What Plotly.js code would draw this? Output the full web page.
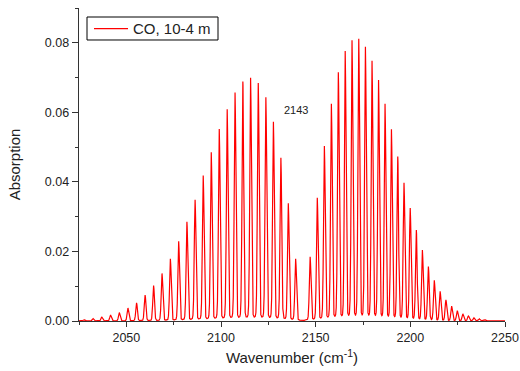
<!DOCTYPE html>
<html>
<head>
<meta charset="utf-8">
<script src="https://cdn.plot.ly/plotly-3.0.1.min.js"></script>
<style>html,body{margin:0;padding:0;background:#fff;}#chart{width:520px;height:371px;}</style>
</head>
<body>
<div id="chart"></div>
<script>
// P-branch line centres (cm^-1) and peak absorptions
const pCenters = [2139.43, 2135.55, 2131.63, 2127.68, 2123.70, 2119.68, 2115.63, 2111.54, 2107.42, 2103.27,
                  2099.08, 2094.86, 2090.61, 2086.32, 2082.00, 2077.65, 2073.26, 2068.85, 2064.40, 2059.91,
                  2055.40, 2050.85, 2046.28, 2041.67, 2037.03, 2032.35, 2027.65];
const pHeights = [0.0177, 0.0336, 0.0467, 0.0570, 0.0640, 0.0681, 0.0696, 0.0685, 0.0654, 0.0606,
                  0.0549, 0.0483, 0.0416, 0.0347, 0.0284, 0.0228, 0.0178, 0.0136, 0.0101, 0.0074,
                  0.0052, 0.0037, 0.0024, 0.0017, 0.0011, 0.0007, 0.0004];
// R-branch
const rCenters = [2147.08, 2150.86, 2154.60, 2158.30, 2161.97, 2165.60, 2169.20, 2172.76, 2176.28, 2179.77,
                  2183.22, 2186.64, 2190.02, 2193.36, 2196.66, 2199.94, 2203.17, 2206.37, 2209.53, 2212.66,
                  2215.75, 2218.80, 2221.82, 2224.80, 2227.75, 2230.66, 2233.53, 2236.37, 2239.17, 2241.94];
const rHeights = [0.0183, 0.0352, 0.0500, 0.0621, 0.0711, 0.0771, 0.0802, 0.0806, 0.0783, 0.0743,
                  0.0688, 0.0620, 0.0547, 0.0469, 0.0394, 0.0322, 0.0259, 0.0202, 0.0155, 0.0116,
                  0.0084, 0.0060, 0.0042, 0.0029, 0.0020, 0.0014, 0.0009, 0.0006, 0.0004, 0.0002];
const seriesName = 'CO, 10-4 m';
const bandLabel = '2143';
const xRange = [2025, 2250];
const yRange = [0, 0.09];

// build the spectrum from the line list (pseudo-Voigt line shape)
const centers = pCenters.concat(rCenters);
const heights = pHeights.concat(rHeights);
const fwhm = 1.0, eta = 0.12, step = 0.01;
const xs = [], ys = [];
const n = Math.round((xRange[1] - xRange[0]) / step);
for (let i = 0; i <= n; i++) {
  const x = xRange[0] + i * step;
  let y = 0;
  for (let k = 0; k < centers.length; k++) {
    const d = (x - centers[k]) / fwhm;
    const d2 = d * d;
    const g = Math.exp(-4 * Math.LN2 * d2);
    const l = 1 / (1 + 4 * d2);
    y += heights[k] * ((1 - eta) * g + eta * l);
  }
  xs.push(x); ys.push(y);
}

const font = 'Arial, "Liberation Sans", sans-serif';
const axisCol = '#333';
const trace = {
  x: xs, y: ys, type: 'scatter', mode: 'lines', name: seriesName,
  line: {color: '#ff0000', width: 1.2}
};
const layout = {
  width: 520, height: 371,
  margin: {l: 79, r: 15, t: 8, b: 50},
  paper_bgcolor: '#fff', plot_bgcolor: '#fff',
  font: {family: font, color: '#222'},
  showlegend: true,
  legend: {x: 0.0235, y: 0.986, xanchor: 'left', yanchor: 'top', borderwidth: 0,
           bgcolor: 'rgba(0,0,0,0)', itemwidth: 34, font: {size: 15, family: font, color: '#222'}},
  shapes: [{type: 'rect', xref: 'paper', yref: 'paper', x0: 0.0188, x1: 0.3263, y0: 0.8978, y1: 0.9712,
            line: {color: '#000', width: 1}, fillcolor: '#fff', layer: 'above'}],
  xaxis: {
    range: xRange, dtick: 50, tick0: 2050, ticks: 'outside', ticklen: 5, tickwidth: 1, tickcolor: axisCol,
    showline: true, linecolor: axisCol, linewidth: 1.3, showgrid: false, zeroline: false,
    tickfont: {size: 12.5, family: font, color: '#222'},
    minor: {dtick: 25, tick0: 2025, ticks: 'outside', ticklen: 3, tickcolor: axisCol, showgrid: false},
    title: {text: 'Wavenumber (cm<sup>-1</sup>)', font: {size: 15, family: font, color: '#222'}, standoff: 8}
  },
  yaxis: {
    range: yRange, dtick: 0.02, tick0: 0, tickformat: '.2f', ticks: 'outside', ticklen: 6, tickwidth: 1, tickcolor: axisCol,
    showline: true, linecolor: axisCol, linewidth: 1.3, showgrid: false, zeroline: false,
    tickfont: {size: 12.5, family: font, color: '#222'},
    minor: {dtick: 0.01, tick0: 0, ticks: 'outside', ticklen: 3, tickcolor: axisCol, showgrid: false},
    title: {text: 'Absorption', font: {size: 15, family: font, color: '#222'}, standoff: 20}
  },
  annotations: [{x: 2139.8, y: 0.0607, xref: 'x', yref: 'y', text: bandLabel, showarrow: false,
                 font: {size: 11, family: font, color: '#222'}}]
};
Plotly.newPlot('chart', [trace], layout, {staticPlot: true, displayModeBar: false});
</script>
</body>
</html>
